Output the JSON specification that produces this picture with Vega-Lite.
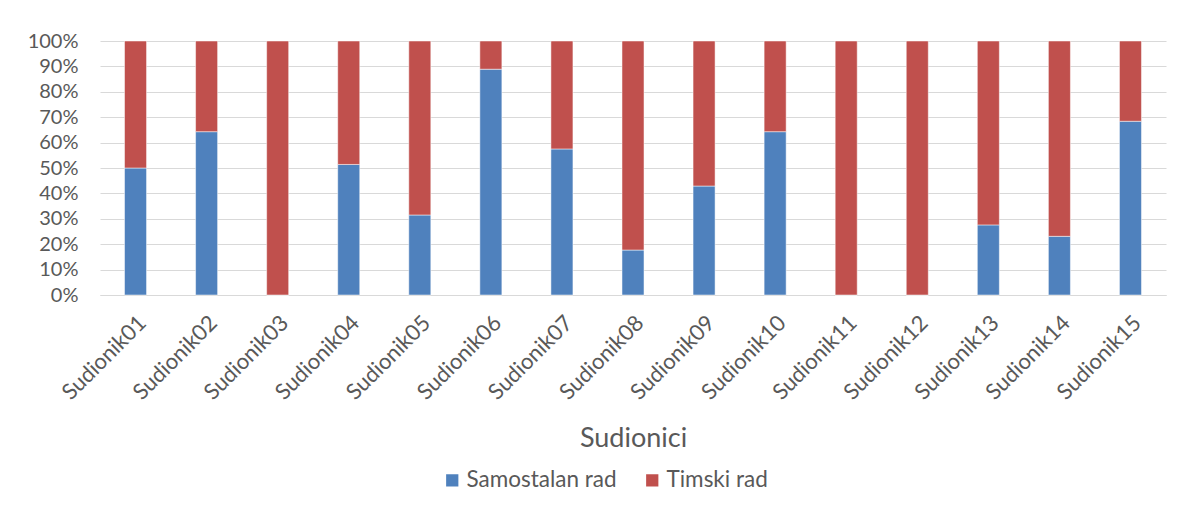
{
  "$schema": "https://vega.github.io/schema/vega-lite/v6.json",
  "autosize": "none",
  "width": 1066,
  "height": 254,
  "padding": {"left": 100, "top": 41, "right": 16, "bottom": 217},
  "background": "white",
  "config": {
    "font": "Lato",
    "view": {"stroke": null},
    "axis": {"labelColor": "#595959", "titleColor": "#595959", "labelFont": "Lato", "titleFont": "Lato"},
    "legend": {"labelColor": "#595959", "labelFont": "Lato"}
  },
  "data": {
    "values": [
      {"sudionik": "Sudionik01", "vrsta": "Samostalan rad", "udio": 50},
      {"sudionik": "Sudionik01", "vrsta": "Timski rad", "udio": 50},
      {"sudionik": "Sudionik02", "vrsta": "Samostalan rad", "udio": 64.3},
      {"sudionik": "Sudionik02", "vrsta": "Timski rad", "udio": 35.7},
      {"sudionik": "Sudionik03", "vrsta": "Samostalan rad", "udio": 0},
      {"sudionik": "Sudionik03", "vrsta": "Timski rad", "udio": 100},
      {"sudionik": "Sudionik04", "vrsta": "Samostalan rad", "udio": 51.4},
      {"sudionik": "Sudionik04", "vrsta": "Timski rad", "udio": 48.6},
      {"sudionik": "Sudionik05", "vrsta": "Samostalan rad", "udio": 31.5},
      {"sudionik": "Sudionik05", "vrsta": "Timski rad", "udio": 68.5},
      {"sudionik": "Sudionik06", "vrsta": "Samostalan rad", "udio": 88.9},
      {"sudionik": "Sudionik06", "vrsta": "Timski rad", "udio": 11.1},
      {"sudionik": "Sudionik07", "vrsta": "Samostalan rad", "udio": 57.5},
      {"sudionik": "Sudionik07", "vrsta": "Timski rad", "udio": 42.5},
      {"sudionik": "Sudionik08", "vrsta": "Samostalan rad", "udio": 17.7},
      {"sudionik": "Sudionik08", "vrsta": "Timski rad", "udio": 82.3},
      {"sudionik": "Sudionik09", "vrsta": "Samostalan rad", "udio": 42.9},
      {"sudionik": "Sudionik09", "vrsta": "Timski rad", "udio": 57.1},
      {"sudionik": "Sudionik10", "vrsta": "Samostalan rad", "udio": 64.3},
      {"sudionik": "Sudionik10", "vrsta": "Timski rad", "udio": 35.7},
      {"sudionik": "Sudionik11", "vrsta": "Samostalan rad", "udio": 0},
      {"sudionik": "Sudionik11", "vrsta": "Timski rad", "udio": 100},
      {"sudionik": "Sudionik12", "vrsta": "Samostalan rad", "udio": 0},
      {"sudionik": "Sudionik12", "vrsta": "Timski rad", "udio": 100},
      {"sudionik": "Sudionik13", "vrsta": "Samostalan rad", "udio": 27.6},
      {"sudionik": "Sudionik13", "vrsta": "Timski rad", "udio": 72.4},
      {"sudionik": "Sudionik14", "vrsta": "Samostalan rad", "udio": 23.1},
      {"sudionik": "Sudionik14", "vrsta": "Timski rad", "udio": 76.9},
      {"sudionik": "Sudionik15", "vrsta": "Samostalan rad", "udio": 68.4},
      {"sudionik": "Sudionik15", "vrsta": "Timski rad", "udio": 31.6}
    ]
  },
  "mark": {"type": "bar", "stroke": "white", "strokeWidth": 0.5},
  "encoding": {
    "x": {
      "field": "sudionik",
      "type": "nominal",
      "scale": {"paddingInner": 0.69, "paddingOuter": 0.345},
      "axis": {
        "title": "Sudionici",
        "titleFontSize": 27,
        "titleFontWeight": "normal",
        "titlePadding": 22,
        "labelAngle": -45,
        "labelFontSize": 22,
        "labelPadding": 17,
        "ticks": false,
        "domainColor": "#d9d9d9",
        "domainWidth": 1
      }
    },
    "y": {
      "field": "udio",
      "type": "quantitative",
      "stack": "zero",
      "scale": {"domain": [0, 100], "nice": false},
      "axis": {
        "title": null,
        "values": [0, 10, 20, 30, 40, 50, 60, 70, 80, 90, 100],
        "labelExpr": "datum.value + '%'",
        "labelFontSize": 20,
        "labelPadding": 22,
        "ticks": false,
        "domain": false,
        "gridColor": "#d9d9d9",
        "gridWidth": 1
      }
    },
    "color": {
      "field": "vrsta",
      "type": "nominal",
      "scale": {"domain": ["Samostalan rad", "Timski rad"], "range": ["#4f81bd", "#c0504d"]},
      "legend": {
        "title": null,
        "orient": "none",
        "legendX": 341,
        "legendY": 428,
        "direction": "horizontal",
        "symbolType": "square",
        "symbolSize": 150,
        "symbolStrokeWidth": 0,
        "labelFontSize": 22.5,
        "labelOffset": 3,
        "columnPadding": 24
      }
    },
    "order": {"field": "vrsta", "sort": "ascending"}
  }
}
